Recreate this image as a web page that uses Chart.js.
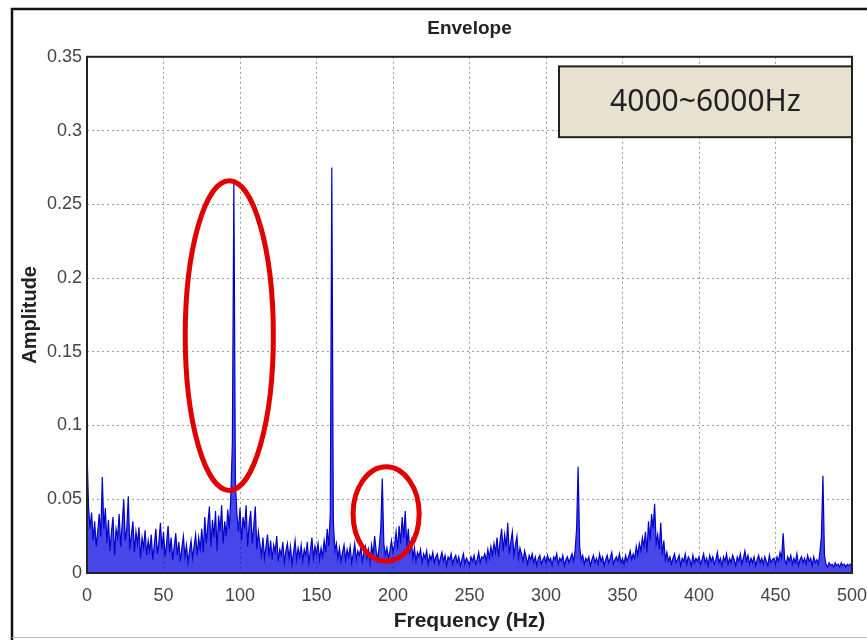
<!DOCTYPE html>
<html>
<head>
<meta charset="utf-8">
<title>Envelope</title>
<script src="https://cdn.jsdelivr.net/npm/chart.js@4.4.0/dist/chart.umd.min.js"></script>
<style>
    html, body { margin: 0; padding: 0; background: #fff; }
    #wrap { width: 867px; height: 640px; position: relative; }
</style>
</head>
<body>
<div id="wrap"><canvas id="envelopeChart" width="867" height="640"></canvas></div>
<script>
// ==========================================
// DATA (1 Hz bins)
// ==========================================
const amplitude = [
    0.083, 0.045, 0.030, 0.041, 0.022, 0.035, 0.018, 0.028, 0.040, 0.025,
    0.065, 0.030, 0.044, 0.020, 0.036, 0.015, 0.028, 0.038, 0.012, 0.030,
    0.024, 0.040, 0.018, 0.033, 0.050, 0.022, 0.030, 0.052, 0.016, 0.026,
    0.035, 0.014, 0.028, 0.020, 0.031, 0.010, 0.024, 0.017, 0.029, 0.012,
    0.022, 0.015, 0.026, 0.009, 0.019, 0.030, 0.013, 0.021, 0.034, 0.016,
    0.028, 0.011, 0.020, 0.032, 0.014, 0.024, 0.009, 0.018, 0.027, 0.012,
    0.021, 0.008, 0.017, 0.025, 0.011, 0.019, 0.007, 0.015, 0.022, 0.010,
    0.018, 0.026, 0.012, 0.024, 0.016, 0.030, 0.014, 0.038, 0.020, 0.033,
    0.045, 0.018, 0.036, 0.024, 0.042, 0.015, 0.039, 0.028, 0.046, 0.020,
    0.035, 0.025, 0.043, 0.030, 0.052, 0.088, 0.265, 0.060, 0.040, 0.028,
    0.044, 0.022, 0.038, 0.030, 0.046, 0.018, 0.034, 0.042, 0.020, 0.032,
    0.045, 0.016, 0.028, 0.020, 0.012, 0.024, 0.010, 0.018, 0.026, 0.011,
    0.022, 0.009, 0.019, 0.014, 0.025, 0.008, 0.016, 0.012, 0.021, 0.007,
    0.015, 0.020, 0.010, 0.018, 0.006, 0.014, 0.022, 0.009, 0.017, 0.011,
    0.019, 0.008, 0.016, 0.012, 0.021, 0.007, 0.015, 0.024, 0.010, 0.018,
    0.013, 0.020, 0.009, 0.017, 0.011, 0.022, 0.014, 0.030, 0.018, 0.040,
    0.275, 0.035, 0.015, 0.020, 0.010, 0.017, 0.008, 0.014, 0.019, 0.009,
    0.016, 0.011, 0.018, 0.007, 0.013, 0.020, 0.009, 0.015, 0.012, 0.017,
    0.008, 0.014, 0.018, 0.010, 0.016, 0.007, 0.019, 0.012, 0.025, 0.015,
    0.009, 0.018, 0.030, 0.064, 0.020, 0.012, 0.017, 0.010, 0.015, 0.022,
    0.014, 0.019, 0.028, 0.016, 0.032, 0.020, 0.038, 0.024, 0.042, 0.018,
    0.030, 0.015, 0.022, 0.010, 0.017, 0.008, 0.014, 0.011, 0.016, 0.007,
    0.013, 0.010, 0.015, 0.006, 0.012, 0.009, 0.014, 0.007, 0.011, 0.013,
    0.006, 0.010, 0.014, 0.008, 0.012, 0.005, 0.011, 0.009, 0.013, 0.006,
    0.010, 0.012, 0.007, 0.011, 0.005, 0.009, 0.013, 0.006, 0.010, 0.008,
    0.005, 0.011, 0.008, 0.012, 0.006, 0.009, 0.014, 0.007, 0.011, 0.010,
    0.013, 0.008, 0.016, 0.010, 0.018, 0.012, 0.020, 0.014, 0.024, 0.011,
    0.022, 0.030, 0.015, 0.026, 0.018, 0.034, 0.013, 0.021, 0.028, 0.012,
    0.019, 0.025, 0.010, 0.017, 0.013, 0.008, 0.015, 0.011, 0.006, 0.012,
    0.009, 0.013, 0.007, 0.011, 0.005, 0.010, 0.012, 0.006, 0.009, 0.011,
    0.007, 0.012, 0.008, 0.010, 0.005, 0.011, 0.009, 0.013, 0.006, 0.010,
    0.008, 0.012, 0.005, 0.009, 0.011, 0.007, 0.010, 0.013, 0.008, 0.015,
    0.030, 0.072, 0.018, 0.009, 0.012, 0.006, 0.010, 0.008, 0.011, 0.005,
    0.009, 0.012, 0.007, 0.010, 0.006, 0.013, 0.008, 0.011, 0.005, 0.009,
    0.012, 0.007, 0.010, 0.014, 0.006, 0.009, 0.011, 0.008, 0.013, 0.007,
    0.010, 0.006, 0.012, 0.008, 0.011, 0.015, 0.009, 0.013, 0.010, 0.018,
    0.012, 0.020, 0.015, 0.024, 0.018, 0.028, 0.014, 0.035, 0.022, 0.040,
    0.030, 0.047, 0.020, 0.026, 0.016, 0.034, 0.012, 0.022, 0.009, 0.014,
    0.008, 0.011, 0.006, 0.010, 0.013, 0.007, 0.009, 0.012, 0.005, 0.010,
    0.008, 0.013, 0.006, 0.011, 0.009, 0.005, 0.012, 0.007, 0.010, 0.008,
    0.011, 0.006, 0.009, 0.013, 0.007, 0.010, 0.005, 0.012, 0.008, 0.011,
    0.006, 0.009, 0.014, 0.007, 0.010, 0.005, 0.011, 0.008, 0.013, 0.006,
    0.010, 0.007, 0.012, 0.009, 0.005, 0.011, 0.008, 0.013, 0.006, 0.010,
    0.015, 0.008, 0.012, 0.006, 0.010, 0.007, 0.011, 0.005, 0.009, 0.012,
    0.007, 0.010, 0.006, 0.011, 0.008, 0.005, 0.012, 0.007, 0.009, 0.010,
    0.006, 0.011, 0.008, 0.014, 0.010, 0.027, 0.009, 0.006, 0.011, 0.008,
    0.012, 0.006, 0.010, 0.007, 0.013, 0.005, 0.009, 0.011, 0.007, 0.010,
    0.006, 0.012, 0.008, 0.010, 0.005, 0.011, 0.007, 0.009, 0.006, 0.014,
    0.025, 0.066, 0.012, 0.006, 0.004, 0.007, 0.005, 0.006, 0.004, 0.007,
    0.005, 0.006, 0.004, 0.007, 0.005, 0.006, 0.004, 0.006, 0.005, 0.006,
    0.005
];
// frequency of each bin (1 Hz spacing starting at 0 Hz)
const frequency = amplitude.map((_, i) => i);

const xTickValues = [0, 50, 100, 150, 200, 250, 300, 350, 400, 450, 500];
const yTickValues = [0, 0.05, 0.1, 0.15, 0.2, 0.25, 0.3, 0.35];
const yTickLabels = ['0', '0.05', '0.1', '0.15', '0.2', '0.25', '0.3', '0.35'];

const chartTitle = 'Envelope';
const xAxisTitle = 'Frequency (Hz)';
const yAxisTitle = 'Amplitude';
const bandLabel = '4000~6000Hz';

// ==========================================
// DECORATION PLUGIN (frame, red circles, band label)
// ==========================================
const tickFont = "'Liberation Sans Narrow', 'Liberation Sans', Arial, sans-serif";
const boldFont = "'Liberation Sans', Arial, sans-serif";

const decorations = {
    id: 'decorations',
    beforeDraw(chart) {
        const ctx = chart.ctx;
        ctx.save();
        // outer picture frame
        ctx.strokeStyle = '#111';
        ctx.lineWidth = 2.5;
        ctx.beginPath();
        ctx.moveTo(12, 640);
        ctx.lineTo(12, 9);
        ctx.lineTo(867, 9);
        ctx.stroke();
        ctx.strokeStyle = '#bbb';
        ctx.lineWidth = 1;
        ctx.beginPath();
        ctx.moveTo(12, 637.5);
        ctx.lineTo(867, 637.5);
        ctx.stroke();
        ctx.restore();
    },
    afterDatasetsDraw(chart) {
        const ctx = chart.ctx;
        const xs = chart.scales.x;
        const ys = chart.scales.y;
        const area = chart.chartArea;

        ctx.save();
        // plot box
        ctx.strokeStyle = '#222';
        ctx.lineWidth = 2;
        ctx.strokeRect(area.left, area.top, area.right - area.left, area.bottom - area.top);

        // red ellipses around the peaks (given in data units)
        const rings = [
            { f: 93, a: 0.161, df: 28.8, da: 0.105 },
            { f: 195.5, a: 0.040, df: 21.6, da: 0.032 }
        ];
        ctx.strokeStyle = '#e00000';
        ctx.lineWidth = 5;
        rings.forEach(r => {
            const cx = xs.getPixelForValue(r.f);
            const cy = ys.getPixelForValue(r.a);
            const rx = xs.getPixelForValue(r.f + r.df) - cx;
            const ry = cy - ys.getPixelForValue(r.a + r.da);
            ctx.beginPath();
            ctx.ellipse(cx, cy, rx, ry, 0, 0, Math.PI * 2);
            ctx.stroke();
        });

        // band label box
        const bx1 = xs.getPixelForValue(308.5);
        const bx2 = area.right;
        const by1 = ys.getPixelForValue(0.3435);
        const by2 = ys.getPixelForValue(0.2955);
        ctx.fillStyle = '#e6e2cf';
        ctx.fillRect(bx1, by1, bx2 - bx1, by2 - by1);
        ctx.strokeStyle = '#222';
        ctx.lineWidth = 2;
        ctx.strokeRect(bx1, by1, bx2 - bx1, by2 - by1);
        ctx.fillStyle = '#222';
        ctx.font = "30px 'Noto Sans', 'Open Sans', sans-serif";
        ctx.textAlign = 'center';
        ctx.textBaseline = 'middle';
        ctx.fillText(bandLabel, (bx1 + bx2) / 2, (by1 + by2) / 2 + 1);
        ctx.restore();
    }
};

// ==========================================
// CHART
// ==========================================
const ctx = document.getElementById('envelopeChart');
new Chart(ctx, {
    type: 'line',
    data: {
        datasets: [{
            label: 'Envelope spectrum',
            data: frequency.map((f, i) => ({ x: f, y: amplitude[i] })),
            borderColor: '#0000cc',
            backgroundColor: 'rgba(0, 0, 225, 0.72)',
            borderWidth: 1.2,
            pointRadius: 0,
            tension: 0,
            fill: 'origin'
        }]
    },
    options: {
        responsive: false,
        animation: false,
        layout: { padding: { top: 17, left: 14, right: 15, bottom: 2 } },
        plugins: {
            legend: { display: false },
            tooltip: { enabled: false },
            title: {
                display: true,
                fullSize: false,
                text: chartTitle,
                color: '#222',
                font: { family: boldFont, size: 19, weight: 'bold' },
                padding: { top: 0, bottom: 17 }
            }
        },
        scales: {
            x: {
                type: 'linear',
                min: 0,
                max: 500,
                afterBuildTicks: scale => { scale.ticks = xTickValues.map(v => ({ value: v })); },
                afterFit: scale => {
                    scale.height = 65;
                    scale.paddingLeft = 0;
                    scale.paddingRight = 0;
                },
                ticks: {
                    color: '#444',
                    padding: 12,
                    maxRotation: 0,
                    font: { family: tickFont, size: 18 }
                },
                grid: { color: '#9a9a9a', lineWidth: 1, drawTicks: false },
                border: { display: false, dash: [2, 3] },
                title: {
                    display: true,
                    text: xAxisTitle,
                    color: '#222',
                    font: { family: boldFont, size: 21, weight: 'bold' },
                    padding: { top: 2, bottom: 4 }
                }
            },
            y: {
                type: 'linear',
                min: 0,
                max: 0.35,
                afterBuildTicks: scale => { scale.ticks = yTickValues.map(v => ({ value: v })); },
                afterFit: scale => { scale.width = 73; },
                ticks: {
                    color: '#444',
                    padding: 5,
                    font: { family: tickFont, size: 18 },
                    callback: (value, index) => yTickLabels[index]
                },
                grid: { color: '#9a9a9a', lineWidth: 1, drawTicks: false },
                border: { display: false, dash: [2, 3] },
                title: {
                    display: true,
                    text: yAxisTitle,
                    color: '#222',
                    font: { family: boldFont, size: 20, weight: 'bold' },
                    padding: { top: 4, bottom: 0 }
                }
            }
        }
    },
    plugins: [decorations]
});
</script>
</body>
</html>
